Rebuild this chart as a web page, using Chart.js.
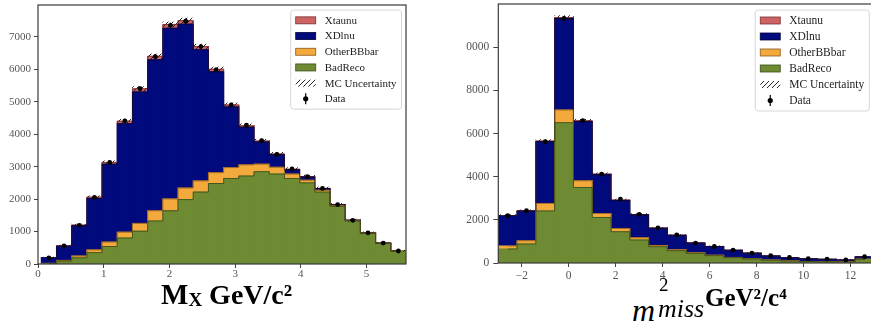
<!DOCTYPE html>
<html>
<head>
<meta charset="utf-8">
<script src="https://cdn.jsdelivr.net/npm/chart.js@4.4.0/dist/chart.umd.min.js"></script>
<style>
  html, body { margin: 0; padding: 0; background: #fff; }
  body { width: 871px; height: 329px; position: relative; overflow: hidden; }
  #leftWrap { position: absolute; left: 0; top: 0; width: 420px; height: 290px; }
  #rightClip { position: absolute; left: 466px; top: 0; width: 405px; height: 290px; overflow: hidden; }
  #rightWrap { position: absolute; left: -16px; top: 0; width: 430px; height: 290px; }
  .lbl { position: absolute; font-family: "Liberation Serif", "DejaVu Serif", serif; color: #000; white-space: nowrap; line-height: 1; }
  .b { font-weight: bold; }
  .it { font-style: italic; }
</style>
</head>
<body>
<div id="leftWrap"><canvas id="leftChart" width="420" height="290"></canvas></div>
<div id="rightClip"><div id="rightWrap"><canvas id="rightChart" width="430" height="290"></canvas></div></div>

<div class="lbl b" style="left:161px; top:280px;"><span style="font-size:29px">M</span><span style="font-size:19px; vertical-align:-2px">X</span><span style="font-size:28px"> GeV/c²</span></div>

<div class="lbl it" style="left:632px; top:294px; font-size:32px;">m</div>
<div class="lbl" style="left:659px; top:275px; font-size:19px;">2</div>
<div class="lbl it" style="left:658px; top:296px; font-size:26px;">miss</div>
<div class="lbl b" style="left:705px; top:285px; font-size:25px;">GeV²/c⁴</div>

<script>
// ---- left panel: M_X ----
const leftCenters = [0.1656, 0.3969, 0.6281, 0.8594, 1.0906, 1.3219, 1.5531, 1.7844, 2.0156, 2.2469, 2.4781, 2.7094,
  2.9406, 3.1719, 3.4031, 3.6344, 3.8656, 4.0969, 4.3281, 4.5594, 4.7906, 5.0219, 5.2531, 5.4844];
const leftBadReco = [15, 90, 190, 350, 540, 800, 1010, 1325, 1640, 1985, 2215, 2480, 2635, 2710, 2845, 2770, 2635, 2500, 2215, 1775, 1325, 945, 635, 400];
const leftOtherBBbar = [5, 20, 55, 85, 135, 180, 240, 315, 365, 355, 345, 335, 335, 345, 230, 210, 135, 80, 55, 25, 15, 10, 5, 3];
const leftXDlnu = [175, 440, 935, 1585, 2395, 3340, 4050, 4650, 5255, 5050, 4040, 3105, 1870, 1160, 685, 390, 138, 102, 55, 27, 8, 4, 4, 2];
const leftXtaunu = [5, 10, 20, 40, 60, 80, 100, 110, 120, 110, 100, 80, 60, 45, 30, 20, 12, 8, 5, 3, 2, 1, 1, 0];
const leftMcUnc = [12, 20, 30, 40, 50, 58, 66, 72, 78, 78, 74, 70, 62, 58, 55, 52, 48, 46, 43, 38, 33, 28, 22, 18];
const leftData = [190, 560, 1190, 2050, 3130, 4410, 5400, 6390, 7350, 7480, 6700, 5980, 4900, 4280, 3800, 3380, 2930, 2690, 2330, 1830, 1345, 960, 645, 400];
const leftDataErr = [14, 24, 34, 45, 56, 66, 73, 80, 86, 86, 82, 77, 70, 65, 62, 58, 54, 52, 48, 43, 37, 31, 25, 20];
const leftXTicks = [0, 1, 2, 3, 4, 5];
const leftYTicks = [0, 1000, 2000, 3000, 4000, 5000, 6000, 7000];

// ---- right panel: m_miss^2 ----
const rightCenters = [-2.6, -1.8, -1.0, -0.2, 0.6, 1.4, 2.2, 3.0, 3.8, 4.6, 5.4, 6.2, 7.0, 7.8, 8.6, 9.4, 10.2, 11.0, 11.8, 12.6];
const rightBadReco = [650, 880, 2410, 6500, 3500, 2110, 1450, 1065, 755, 570, 445, 340, 245, 185, 130, 95, 70, 55, 45, 170];
const rightOtherBBbar = [140, 150, 350, 590, 310, 185, 150, 105, 60, 40, 30, 20, 15, 10, 8, 5, 4, 3, 2, 5];
const rightXDlnu = [1400, 1380, 2870, 4240, 2750, 1800, 1300, 1065, 793, 670, 447, 404, 325, 261, 189, 148, 124, 111, 92, 113];
const rightXtaunu = [10, 10, 20, 40, 30, 25, 20, 15, 12, 10, 8, 6, 5, 4, 3, 2, 2, 1, 1, 2];
const rightMcUnc = [40, 42, 65, 95, 70, 55, 46, 40, 34, 30, 26, 24, 21, 18, 15, 13, 12, 11, 10, 14];
const rightData = [2190, 2420, 5620, 11330, 6590, 4120, 2960, 2250, 1630, 1300, 925, 765, 595, 455, 335, 255, 205, 175, 140, 290];
const rightDataErr = [47, 49, 75, 106, 81, 64, 54, 47, 40, 36, 30, 28, 24, 21, 18, 16, 14, 13, 12, 17];
const rightXTicks = [-2, 0, 2, 4, 6, 8, 10, 12];
const rightYTicks = [0, 2000, 4000, 6000, 8000, 10000];

const legendLabels = ["Xtaunu", "XDlnu", "OtherBBbar", "BadReco", "MC Uncertainty", "Data"];

const colors = {
  Xtaunu: "#cd6363",
  XDlnu: "#010a7c",
  OtherBBbar: "#f3a93c",
  BadReco: "#6e8a33"
};
const edges = {
  Xtaunu: "#7a3030",
  XDlnu: "#000038",
  OtherBBbar: "#8a5a1a",
  BadReco: "#3b4d18"
};

const serif = '"Liberation Serif", "DejaVu Serif", serif';
Chart.defaults.font.family = serif;
Chart.defaults.color = "#555";

// diagonal hatch like matplotlib '////'
const hatchCanvas = document.createElement("canvas");
hatchCanvas.width = 5;
hatchCanvas.height = 5;
const hg = hatchCanvas.getContext("2d");
hg.strokeStyle = "#111";
hg.lineWidth = 0.9;
hg.beginPath();
hg.moveTo(0, 5); hg.lineTo(5, 0);
hg.moveTo(-1, 1); hg.lineTo(1, -1);
hg.moveTo(4, 6); hg.lineTo(6, 4);
hg.stroke();
const hatch = hg.createPattern(hatchCanvas, "repeat");

// frame around plot area (all four spines)
const framePlugin = {
  id: "frame",
  afterDatasetsDraw(chart) {
    const { ctx, chartArea: a } = chart;
    ctx.save();
    ctx.strokeStyle = "#3a3a3a";
    ctx.lineWidth = 1.2;
    ctx.strokeRect(a.left, a.top, a.right - a.left, a.bottom - a.top);
    ctx.restore();
  }
};

// vertical error bars on the data points
const errorBarPlugin = {
  id: "errbars",
  afterDatasetsDraw(chart, args, opts) {
    const { ctx } = chart;
    const y = chart.scales.y;
    const meta = chart.getDatasetMeta(0);
    const vals = chart.data.datasets[0].data;
    ctx.save();
    ctx.strokeStyle = "#000";
    ctx.lineWidth = 1.2;
    meta.data.forEach((pt, i) => {
      const e = opts.errors[i];
      ctx.beginPath();
      ctx.moveTo(pt.x, y.getPixelForValue(vals[i].y - e));
      ctx.lineTo(pt.x, y.getPixelForValue(vals[i].y + e));
      ctx.stroke();
    });
    ctx.restore();
  }
};

// legend box in the upper right of the plot area
const legendPlugin = {
  id: "histLegend",
  afterDraw(chart, args, opts) {
    const { ctx, chartArea: a } = chart;
    ctx.save();
    ctx.font = `${opts.fontSize}px ${serif}`;
    const textW = Math.max(...legendLabels.map((t) => ctx.measureText(t).width));
    const w = 34 + textW + 5;
    const h = legendLabels.length * opts.rowH + 5;
    const x0 = a.right - opts.right - w;
    const y0 = a.top + opts.top;

    ctx.beginPath();
    ctx.roundRect(x0, y0, w, h, 3);
    ctx.fillStyle = "rgba(255,255,255,0.85)";
    ctx.fill();
    ctx.strokeStyle = "#d6d6d6";
    ctx.lineWidth = 1;
    ctx.stroke();

    legendLabels.forEach((label, i) => {
      const cy = y0 + 2.5 + opts.rowH * (i + 0.5);
      const px = x0 + 5;
      if (colors[label]) {
        ctx.fillStyle = colors[label];
        ctx.fillRect(px, cy - 3.5, 20, 7);
        ctx.strokeStyle = edges[label];
        ctx.lineWidth = 0.8;
        ctx.strokeRect(px, cy - 3.5, 20, 7);
      } else if (label === "MC Uncertainty") {
        ctx.fillStyle = hatch;
        ctx.fillRect(px, cy - 3.5, 20, 7);
      } else {
        ctx.fillStyle = "#000";
        ctx.beginPath();
        ctx.arc(px + 10, cy, 2.6, 0, Math.PI * 2);
        ctx.fill();
        ctx.strokeStyle = "#000";
        ctx.lineWidth = 1.2;
        ctx.beginPath();
        ctx.moveTo(px + 10, cy - 5.5);
        ctx.lineTo(px + 10, cy + 5.5);
        ctx.stroke();
      }
      ctx.fillStyle = "#222";
      ctx.textBaseline = "middle";
      ctx.textAlign = "left";
      ctx.fillText(label, x0 + 34, cy + 0.5);
    });
    ctx.restore();
  }
};

const sumStack = (parts) => parts[0].map((_, i) => parts.reduce((s, p) => s + p[i], 0));
const points = (xs, ys) => xs.map((x, i) => ({ x, y: ys[i] }));
const fmtTick = (v) => (v < 0 ? "\u2212" + Math.abs(v) : String(v));

const makeHist = (canvasId, cfg) => {
  const total = sumStack([cfg.badReco, cfg.otherBBbar, cfg.xdlnu, cfg.xtaunu]);
  const uncBand = cfg.centers.map((x, i) => ({ x, y: [total[i] - cfg.mcUnc[i], total[i] + cfg.mcUnc[i]] }));

  const barSet = (label, values) => ({
    label,
    type: "bar",
    data: points(cfg.centers, values),
    backgroundColor: colors[label],
    borderWidth: 0,
    grouped: false,
    inflateAmount: 0.5,
    barPercentage: 1,
    categoryPercentage: 1
  });

  // thin step outline on top of each stacked component (stacked lines in their own group)
  const outlineSet = (label, values) => ({
    label: label + " edge",
    type: "line",
    stack: "outline",
    data: points(cfg.centers, values),
    stepped: "middle",
    borderColor: edges[label],
    borderWidth: 0.8,
    pointRadius: 0,
    fill: false
  });

  return new Chart(document.getElementById(canvasId), {
    type: "bar",
    data: {
      datasets: [
        {
          label: "Data",
          type: "line",
          data: points(cfg.centers, cfg.data),
          showLine: false,
          pointRadius: 2.4,
          pointBackgroundColor: "#000",
          pointBorderWidth: 0
        },
        outlineSet("BadReco", cfg.badReco),
        outlineSet("OtherBBbar", cfg.otherBBbar),
        outlineSet("XDlnu", cfg.xdlnu),
        outlineSet("Xtaunu", cfg.xtaunu),
        {
          label: "MC Uncertainty",
          type: "bar",
          stack: "unc",
          data: uncBand,
          backgroundColor: hatch,
          borderWidth: 0,
          grouped: false,
          barPercentage: 1,
          categoryPercentage: 1
        },
        barSet("BadReco", cfg.badReco),
        barSet("OtherBBbar", cfg.otherBBbar),
        barSet("XDlnu", cfg.xdlnu),
        barSet("Xtaunu", cfg.xtaunu)
      ]
    },
    options: {
      responsive: false,
      animation: false,
      layout: { padding: cfg.padding },
      plugins: {
        legend: { display: false },
        tooltip: { enabled: false },
        errbars: { errors: cfg.dataErr },
        histLegend: cfg.legend
      },
      scales: {
        x: {
          type: "linear",
          offset: false,
          min: cfg.xMin,
          max: cfg.xMax,
          grid: { drawOnChartArea: false, offset: false, tickLength: 4, tickColor: "#444" },
          border: { display: false },
          ticks: {
            padding: cfg.xPad,
            color: "#555",
            font: { size: cfg.fontSize },
            maxRotation: 0,
            callback: fmtTick
          },
          afterBuildTicks: (s) => { s.ticks = cfg.xTicks.map((v) => ({ value: v })); },
          afterFit: (s) => {
            s.height = cfg.xAxisH;
            s.paddingLeft = 0;
            s.paddingRight = 0;
          }
        },
        y: {
          type: "linear",
          stacked: true,
          min: 0,
          max: cfg.yMax,
          grid: { drawOnChartArea: false, tickLength: cfg.yTickLen, tickColor: "#444" },
          border: { display: false },
          ticks: { padding: cfg.yPad, color: "#555", font: { size: cfg.fontSize }, callback: fmtTick },
          afterBuildTicks: (s) => { s.ticks = cfg.yTicks.map((v) => ({ value: v })); },
          afterFit: (s) => {
            s.width = cfg.yAxisW;
            s.paddingTop = 0;
            s.paddingBottom = 0;
          }
        }
      }
    },
    plugins: [framePlugin, errorBarPlugin, legendPlugin]
  });
};

makeHist("leftChart", {
  centers: leftCenters,
  badReco: leftBadReco,
  otherBBbar: leftOtherBBbar,
  xdlnu: leftXDlnu,
  xtaunu: leftXtaunu,
  mcUnc: leftMcUnc,
  data: leftData,
  dataErr: leftDataErr,
  xTicks: leftXTicks,
  yTicks: leftYTicks,
  xMin: 0,
  xMax: 5.6,
  yMax: 7980,
  padding: { top: 5, right: 14, left: 0, bottom: 0 },
  yAxisW: 38,
  xAxisH: 26,
  xPad: 0,
  yPad: 3,
  yTickLen: 4,
  fontSize: 11,
  legend: { fontSize: 11, rowH: 15.7, right: 4.5, top: 5 }
});

makeHist("rightChart", {
  centers: rightCenters,
  badReco: rightBadReco,
  otherBBbar: rightOtherBBbar,
  xdlnu: rightXDlnu,
  xtaunu: rightXtaunu,
  mcUnc: rightMcUnc,
  data: rightData,
  dataErr: rightDataErr,
  xTicks: rightXTicks,
  yTicks: rightYTicks,
  xMin: -3,
  xMax: 13,
  yMax: 12000,
  padding: { top: 2, right: 6, left: 0, bottom: 0 },
  yAxisW: 48.3,
  xAxisH: 27,
  xPad: 2,
  yPad: 4,
  yTickLen: 5,
  fontSize: 11.5,
  legend: { fontSize: 11.5, rowH: 16, right: 4.7, top: 6 }
});
</script>
</body>
</html>
